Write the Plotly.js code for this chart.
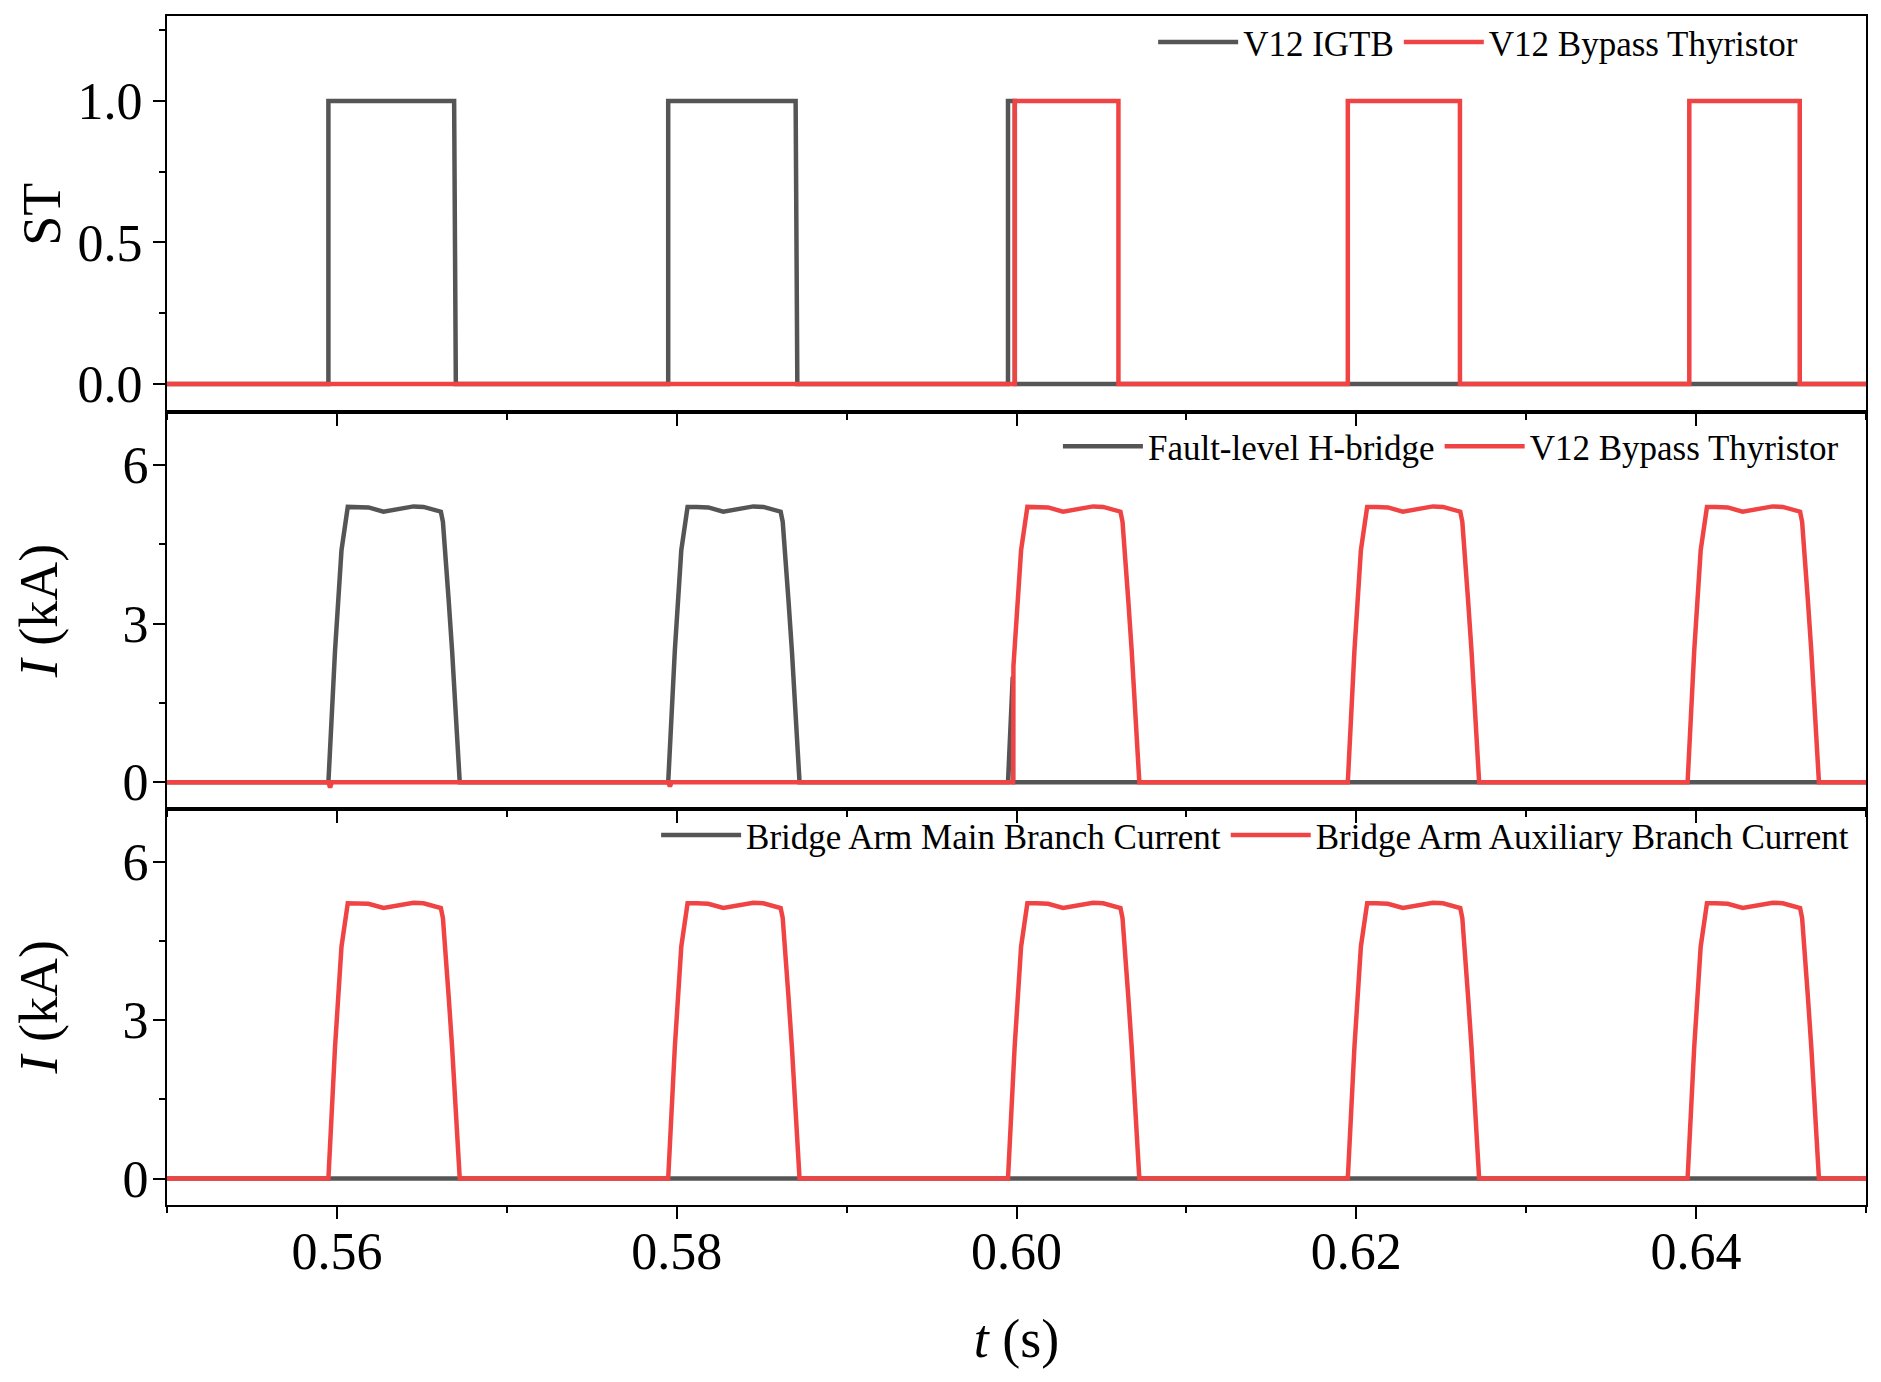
<!DOCTYPE html>
<html>
<head>
<meta charset="utf-8">
<script src="https://cdn.plot.ly/plotly-3.0.1.min.js"></script>
<style>html,body{margin:0;padding:0;background:#fff;}</style>
</head>
<body>
<div id="chart" style="width:1881px;height:1382px;"></div>
<script>
// ---------- data ----------
// Panel 1: switching states (ST)
const tIGBT  = [0.5500, 0.5595, 0.5595, 0.5669, 0.5670, 0.5795, 0.5795, 0.5870, 0.5871, 0.5995, 0.5995, 0.5999, 0.5999, 0.6500];
const stIGBT = [0, 0, 1, 1, 0, 0, 1, 1, 0, 0, 1, 1, 0, 0];
const tThySt  = [0.5500, 0.5999, 0.5999, 0.6060, 0.6060, 0.6195, 0.6195, 0.6261, 0.6261, 0.6396, 0.6396, 0.6461, 0.6461, 0.6500];
const stThy   = [0, 0, 1, 1, 0, 0, 1, 1, 0, 0, 1, 1, 0, 0];

// Panel 2: fault-level H-bridge current and V12 bypass thyristor current (kA)
const tHB = [0.5500,
  0.55950, 0.55989, 0.56027, 0.56064, 0.56117, 0.56186, 0.56274, 0.56353, 0.56451, 0.56510, 0.56569, 0.56612, 0.56624, 0.56638, 0.56658, 0.56678, 0.56697, 0.56723,
  0.57950, 0.57989, 0.58027, 0.58064, 0.58117, 0.58186, 0.58274, 0.58353, 0.58451, 0.58510, 0.58569, 0.58612, 0.58624, 0.58638, 0.58658, 0.58678, 0.58697, 0.58723,
  0.59950, 0.59978, 0.59980,
  0.6500];
const iHB = [0,
  0, 2.49, 4.39, 5.21, 5.21, 5.20, 5.12, 5.17, 5.22, 5.21, 5.17, 5.12, 4.93, 4.39, 3.44, 2.49, 1.44, 0,
  0, 2.49, 4.39, 5.21, 5.21, 5.20, 5.12, 5.17, 5.22, 5.21, 5.17, 5.12, 4.93, 4.39, 3.44, 2.49, 1.44, 0,
  0, 2.00, 0,
  0];

const tThyI = [0.5500, 0.5595, 0.5596, 0.5597, 0.5795, 0.5796, 0.5797,
  0.59980, 0.59982, 0.60027, 0.60064, 0.60117, 0.60186, 0.60274, 0.60353, 0.60451, 0.60510, 0.60569, 0.60612, 0.60624, 0.60638, 0.60658, 0.60678, 0.60697, 0.60723,
  0.61950, 0.61989, 0.62027, 0.62064, 0.62117, 0.62186, 0.62274, 0.62353, 0.62451, 0.62510, 0.62569, 0.62612, 0.62624, 0.62638, 0.62658, 0.62678, 0.62697, 0.62723,
  0.63950, 0.63989, 0.64027, 0.64064, 0.64117, 0.64186, 0.64274, 0.64353, 0.64451, 0.64510, 0.64569, 0.64612, 0.64624, 0.64638, 0.64658, 0.64678, 0.64697, 0.64723,
  0.6500];
const iThy = [0, 0, -0.10, 0, 0, -0.08, 0,
  0, 2.20, 4.39, 5.21, 5.21, 5.20, 5.12, 5.17, 5.22, 5.21, 5.17, 5.12, 4.93, 4.39, 3.44, 2.49, 1.44, 0,
  0, 2.49, 4.39, 5.21, 5.21, 5.20, 5.12, 5.17, 5.22, 5.21, 5.17, 5.12, 4.93, 4.39, 3.44, 2.49, 1.44, 0,
  0, 2.49, 4.39, 5.21, 5.21, 5.20, 5.12, 5.17, 5.22, 5.21, 5.17, 5.12, 4.93, 4.39, 3.44, 2.49, 1.44, 0,
  0];

// Panel 3: bridge arm main / auxiliary branch currents (kA)
const tMain = [0.5500, 0.6500];
const iMain = [0, 0];
const tAux = [0.5500,
  0.55950, 0.55989, 0.56027, 0.56064, 0.56117, 0.56186, 0.56274, 0.56353, 0.56451, 0.56510, 0.56569, 0.56612, 0.56624, 0.56638, 0.56658, 0.56678, 0.56697, 0.56723,
  0.57950, 0.57989, 0.58027, 0.58064, 0.58117, 0.58186, 0.58274, 0.58353, 0.58451, 0.58510, 0.58569, 0.58612, 0.58624, 0.58638, 0.58658, 0.58678, 0.58697, 0.58723,
  0.59950, 0.59989, 0.60027, 0.60064, 0.60117, 0.60186, 0.60274, 0.60353, 0.60451, 0.60510, 0.60569, 0.60612, 0.60624, 0.60638, 0.60658, 0.60678, 0.60697, 0.60723,
  0.61950, 0.61989, 0.62027, 0.62064, 0.62117, 0.62186, 0.62274, 0.62353, 0.62451, 0.62510, 0.62569, 0.62612, 0.62624, 0.62638, 0.62658, 0.62678, 0.62697, 0.62723,
  0.63950, 0.63989, 0.64027, 0.64064, 0.64117, 0.64186, 0.64274, 0.64353, 0.64451, 0.64510, 0.64569, 0.64612, 0.64624, 0.64638, 0.64658, 0.64678, 0.64697, 0.64723,
  0.6500];
const iAux = [0,
  0, 2.49, 4.39, 5.21, 5.21, 5.20, 5.12, 5.17, 5.22, 5.21, 5.17, 5.12, 4.93, 4.39, 3.44, 2.49, 1.44, 0,
  0, 2.49, 4.39, 5.21, 5.21, 5.20, 5.12, 5.17, 5.22, 5.21, 5.17, 5.12, 4.93, 4.39, 3.44, 2.49, 1.44, 0,
  0, 2.49, 4.39, 5.21, 5.21, 5.20, 5.12, 5.17, 5.22, 5.21, 5.17, 5.12, 4.93, 4.39, 3.44, 2.49, 1.44, 0,
  0, 2.49, 4.39, 5.21, 5.21, 5.20, 5.12, 5.17, 5.22, 5.21, 5.17, 5.12, 4.93, 4.39, 3.44, 2.49, 1.44, 0,
  0, 2.49, 4.39, 5.21, 5.21, 5.20, 5.12, 5.17, 5.22, 5.21, 5.17, 5.12, 4.93, 4.39, 3.44, 2.49, 1.44, 0,
  0];

// axis ticks / labels
const xTickVals = [0.56, 0.58, 0.60, 0.62, 0.64];
const xTickText = ['0.56', '0.58', '0.60', '0.62', '0.64'];
const xMinorVals = [0.55, 0.57, 0.59, 0.61, 0.63, 0.65];
const stTickVals = [0, 0.5, 1.0];
const stTickText = ['0.0', '0.5', '1.0'];
const stMinorVals = [0.25, 0.75, 1.25];
const iTickVals = [0, 3, 6];
const iTickText = ['0', '3', '6'];
const iMinorVals = [1.5, 4.5];

const names = {
  igbt: 'V12 IGTB', thySt: 'V12 Bypass Thyristor',
  hb: 'Fault-level H-bridge', thyI: 'V12 Bypass Thyristor',
  main: 'Bridge Arm Main Branch Current', aux: 'Bridge Arm Auxiliary Branch Current'
};

// ---------- styling ----------
const GRAY = '#555555';
const RED = '#F04444';
const FONT = 'Liberation Serif, Times New Roman, serif';
const LW = 4.5;

function tr(x, y, name, color, xa, ya, leg) {
  return {type: 'scatter', mode: 'lines', x: x, y: y, name: name,
          line: {color: color, width: LW}, xaxis: xa, yaxis: ya, legend: leg,
          hoverinfo: 'skip'};
}

const data = [
  tr(tIGBT, stIGBT, names.igbt, GRAY, 'x', 'y', 'legend'),
  tr(tThySt, stThy, names.thySt, RED, 'x', 'y', 'legend'),
  tr(tHB, iHB, names.hb, GRAY, 'x2', 'y2', 'legend2'),
  tr(tThyI, iThy, names.thyI, RED, 'x2', 'y2', 'legend2'),
  tr(tMain, iMain, names.main, GRAY, 'x3', 'y3', 'legend3'),
  tr(tAux, iAux, names.aux, RED, 'x3', 'y3', 'legend3')
];

function minorTicks(vals) {
  return {tickvals: vals, ticks: 'outside', ticklen: 6, tickwidth: 2, tickcolor: 'black', showgrid: false};
}

const xCommon = {
  range: [0.55, 0.65], showgrid: false, zeroline: false,
  showline: true, linecolor: 'black', linewidth: 2, mirror: true,
  ticks: 'outside', ticklen: 12, tickwidth: 2, tickcolor: 'black',
  tickvals: xTickVals, ticktext: xTickText,
  minor: minorTicks(xMinorVals),
  tickfont: {family: FONT, size: 52, color: 'black'},
  fixedrange: true
};
const yCommon = {
  showgrid: false, zeroline: false,
  showline: true, linecolor: 'black', linewidth: 2, mirror: true,
  ticks: 'outside', ticklen: 12, tickwidth: 2, tickcolor: 'black',
  tickfont: {family: FONT, size: 52, color: 'black'},
  fixedrange: true
};
const legCommon = {
  orientation: 'h', xanchor: 'right', yanchor: 'middle',
  bgcolor: 'rgba(0,0,0,0)', borderwidth: 0,
  font: {family: FONT, size: 35, color: 'black'},
  itemwidth: 80, tracegroupgap: 0, traceorder: 'normal'
};

const layout = {
  width: 1881, height: 1382,
  margin: {l: 167, r: 15, t: 16, b: 177, pad: 0},
  paper_bgcolor: 'white', plot_bgcolor: 'white',
  font: {family: FONT, color: 'black'},
  showlegend: true,
  xaxis: Object.assign({}, xCommon, {anchor: 'y', showticklabels: false}),
  xaxis2: Object.assign({}, xCommon, {anchor: 'y2', showticklabels: false}),
  xaxis3: Object.assign({}, xCommon, {anchor: 'y3', showticklabels: true, ticklabelstandoff: -12,
    title: {text: '<i>t</i> (s)', font: {family: FONT, size: 54, color: 'black'}, standoff: 40}}),
  yaxis: Object.assign({}, yCommon, {domain: [2/3, 1], anchor: 'x', range: [-0.1, 1.3],
    tickvals: stTickVals, ticktext: stTickText, minor: minorTicks(stMinorVals),
    title: {text: 'ST', font: {family: FONT, size: 54, color: 'black'}, standoff: 0}}),
  yaxis2: Object.assign({}, yCommon, {domain: [1/3, 2/3], anchor: 'x2', range: [-0.5, 7],
    tickvals: iTickVals, ticktext: iTickText, minor: minorTicks(iMinorVals), ticklabelstandoff: -6,
    title: {text: '<i>I</i> (kA)', font: {family: FONT, size: 54, color: 'black'}, standoff: 48}}),
  yaxis3: Object.assign({}, yCommon, {domain: [0, 1/3], anchor: 'x3', range: [-0.5, 7],
    tickvals: iTickVals, ticktext: iTickText, minor: minorTicks(iMinorVals), ticklabelstandoff: -6,
    title: {text: '<i>I</i> (kA)', font: {family: FONT, size: 54, color: 'black'}, standoff: 48}}),
  legend: Object.assign({}, legCommon, {x: 0.963, y: 0.978}),
  legend2: Object.assign({}, legCommon, {x: 0.987, y: 0.638}),
  legend3: Object.assign({}, legCommon, {x: 0.993, y: 0.311})
};

Plotly.newPlot('chart', data, layout, {displayModeBar: false, staticPlot: true});
</script>
</body>
</html>
